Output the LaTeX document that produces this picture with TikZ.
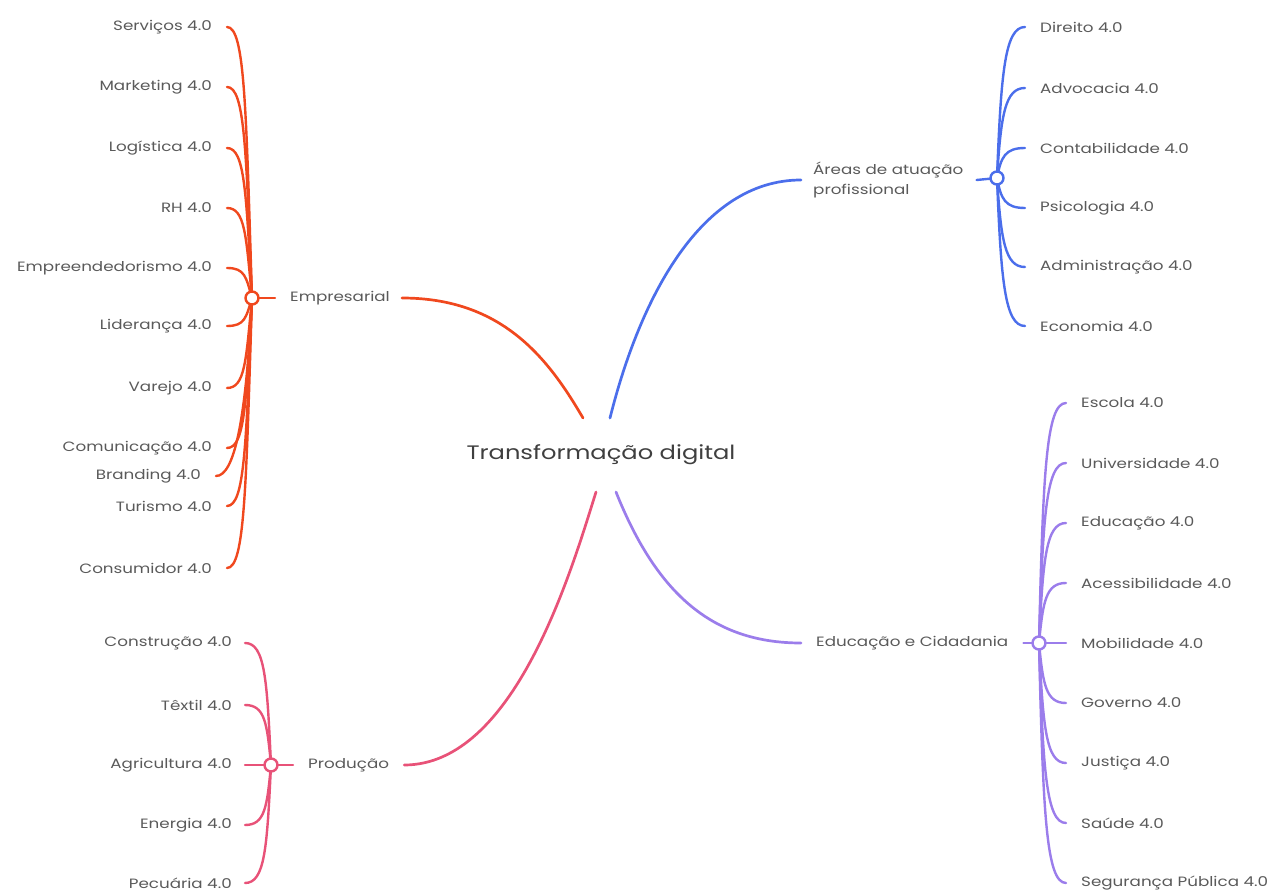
\documentclass[tikz,border=0pt]{standalone}
\usepackage{fontspec}
\setmainfont{Poppins}[FakeStretch=1.24]
\usetikzlibrary{backgrounds}
\definecolor{cRed}{HTML}{F0481E}
\definecolor{cBlue}{HTML}{4B6EEB}
\definecolor{cPink}{HTML}{E85278}
\definecolor{cPurp}{HTML}{9B7DEB}
\definecolor{txt}{HTML}{5A5A5A}
\tikzset{
  lbl/.style={inner sep=0pt, text=txt, font=\fontsize{13.5}{16}\selectfont},
  lblL/.style={lbl, anchor=east},
  lblR/.style={lbl, anchor=west},
  hub/.style={circle, draw=#1, fill=white, line width=2.4pt, minimum size=13pt, inner sep=0pt},
  br/.style={draw=#1, line width=2.7pt, line cap=round},
  sub/.style={draw=#1, line width=2.4pt, line cap=round},
}
\begin{document}
\begin{tikzpicture}[x=1pt,y=-1pt]
\useasboundingbox (0,0) rectangle (1267,893);

% root
\node[inner sep=0pt, text=txt!70!black, font=\fontsize{19.5}{22}\selectfont] (root) at (601,455) {Transformação digital};
\coordinate (rNW) at (583,418);
\coordinate (rNE) at (610,418);
\coordinate (rSW) at (596,492);
\coordinate (rSE) at (616,492);

% main topics
\node[lblR] (emp) at (290,298) {Empresarial};
\node[lblR] (prod) at (308,765) {Produção};
\node[lblR, align=left, font=\fontsize{13.5}{20}\selectfont] (area) at (813,180) {Áreas de atuação\\profissional};
\node[lblR] (edu) at (816,643) {Educação e Cidadania};

% hubs
\node[hub=cRed] (h1) at (252,298) {};
\node[hub=cPink] (h2) at (271,765) {};
\node[hub=cBlue] (h3) at (997,178) {};
\node[hub=cPurp] (h4) at (1039,643) {};

% Empresarial children
\foreach \n/\t/\x/\y in {e1/Serviços 4.0/212/27, e2/Marketing 4.0/212/87, e3/Logística 4.0/212/148, e4/RH 4.0/212/208, e5/Empreendedorismo 4.0/212/268, e6/Liderança 4.0/212/326, e7/Varejo 4.0/212/388, e8/Comunicação 4.0/212/448, e9/Branding 4.0/201/476, e10/Turismo 4.0/212/506, e11/Consumidor 4.0/212/568}{
  \node[lblL] (\n) at (\x,\y) {\t};
  \pgfmathsetmacro{\dy}{0.7*(\y-298)}
  \begin{pgfonlayer}{background}
  \draw[sub=cRed] ([xshift=15pt]\n.east) .. controls +(18,0) and +(-6,\dy) .. (h1.center);
  \end{pgfonlayer}
}

% Produção children
\foreach \n/\t/\y in {p1/Construção 4.0/643, p2/Têxtil 4.0/705, p3/Agricultura 4.0/765, p4/Energia 4.0/825, p5/Pecuária 4.0/883}{
  \node[lblL] (\n) at (232,\y) {\t};
  \pgfmathsetmacro{\dy}{0.7*(\y-765)}
  \begin{pgfonlayer}{background}
  \draw[sub=cPink] ([xshift=13pt]\n.east) .. controls +(20,0) and +(-4,\dy) .. (h2.center);
  \end{pgfonlayer}
}

% Áreas children
\foreach \n/\t/\y in {a1/Direito 4.0/27, a2/Advocacia 4.0/88, a3/Contabilidade 4.0/148, a4/Psicologia 4.0/208, a5/Administração 4.0/267, a6/Economia 4.0/326}{
  \node[lblR] (\n) at (1040,\y) {\t};
  \pgfmathsetmacro{\dy}{0.7*(\y-178)}
  \begin{pgfonlayer}{background}
  \draw[sub=cBlue] ([xshift=-15pt]\n.west) .. controls +(-20,0) and +(4,\dy) .. (h3.center);
  \end{pgfonlayer}
}

% Educação children
\foreach \n/\t/\y in {d1/Escola 4.0/403, d2/Universidade 4.0/463, d3/Educação 4.0/523, d4/Acessibilidade 4.0/583, d5/Mobilidade 4.0/643, d6/Governo 4.0/703, d7/Justiça 4.0/763, d8/Saúde 4.0/823, d9/Segurança Pública 4.0/883}{
  \node[lblR] (\n) at (1081,\y) {\t};
  \pgfmathsetmacro{\dy}{0.7*(\y-643)}
  \begin{pgfonlayer}{background}
  \draw[sub=cPurp] ([xshift=-15pt]\n.west) .. controls +(-20,0) and +(4,\dy) .. (h4.center);
  \end{pgfonlayer}
}

\begin{pgfonlayer}{background}
% hub to topic
\draw[sub=cRed] (h1.center) -- ([xshift=-15pt]emp.west);
\draw[sub=cPink] (h2.center) -- ([xshift=-15pt]prod.west);
\draw[sub=cBlue] (h3.center) -- ([xshift=13pt]area.east);
\draw[sub=cPurp] (h4.center) -- ([xshift=15pt]edu.east);
% main branches
\draw[br=cRed] ([xshift=12pt]emp.east) .. controls +(100,0) and +(-35,-60) .. (rNW);
\draw[br=cBlue] (rNE) .. controls +(30,-120) and +(-100,0) .. ([xshift=-12pt]area.west);
\draw[br=cPink] ([xshift=15pt]prod.east) .. controls +(110,0) and +(-25,80) .. (rSW);
\draw[br=cPurp] (rSE) .. controls +(40,100) and +(-90,0) .. ([xshift=-15pt]edu.west);
\end{pgfonlayer}
\end{tikzpicture}
\end{document}
